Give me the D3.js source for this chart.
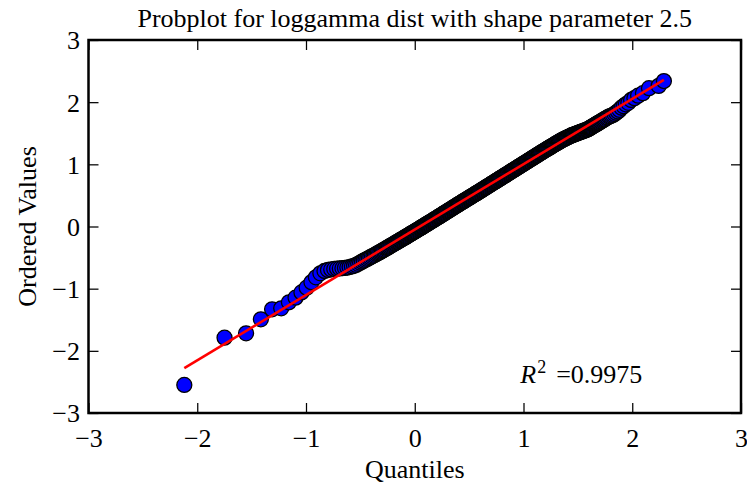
<!DOCTYPE html>
<html>
<head>
<meta charset="utf-8">
<script src="https://cdn.jsdelivr.net/npm/d3@7"></script>
<style>
  html, body { margin: 0; padding: 0; background: #ffffff; }
  svg { display: block; }
  text { font-family: "Liberation Serif", "Times New Roman", serif; fill: #000; }
</style>
</head>
<body>
<svg id="chart" width="747" height="487"></svg>
<script>
// Theoretical quantiles (loggamma, c = 2.5) and the ordered sample values
const quantiles = [
  -2.119,-1.749,-1.551,-1.415,-1.312,-1.228,-1.157,-1.096,-1.042,-0.994,
  -0.950,-0.909,-0.868,-0.830,-0.798,-0.768,-0.740,-0.714,-0.689,-0.665,
  -0.642,-0.620,-0.599,-0.578,-0.558,
  -0.539,-0.520,-0.502,-0.485,-0.469,-0.453,-0.437,-0.422,-0.408,-0.393,
  -0.379,-0.366,-0.353,-0.340,-0.327,-0.315,-0.303,-0.291,-0.280,-0.268,
  -0.257,-0.246,-0.236,-0.225,-0.215,-0.205,-0.195,-0.185,-0.176,-0.166,
  -0.157,-0.148,-0.139,-0.130,-0.121,-0.112,-0.104,-0.095,-0.087,-0.079,
  -0.071,-0.063,-0.055,-0.047,-0.039,-0.031,-0.024,-0.016,-0.009,-0.002,
  0.005,0.013,0.021,0.029,0.037,0.045,0.053,0.061,0.069,0.077,
  0.085,0.093,0.101,0.109,0.117,0.125,0.133,0.141,0.149,0.157,
  0.165,0.173,0.181,0.189,0.197,0.205,0.213,0.221,0.229,0.237,
  0.245,0.253,0.261,0.269,0.277,0.285,0.293,0.301,0.309,0.317,
  0.325,0.333,0.341,0.349,0.357,0.365,0.373,0.381,0.389,0.397,
  0.405,0.413,0.421,0.429,0.437,0.445,0.453,0.461,0.469,0.477,
  0.485,0.493,0.501,0.509,0.517,0.525,0.533,0.541,0.549,0.557,
  0.565,0.573,0.581,0.589,0.597,0.605,0.613,0.621,0.629,0.637,
  0.645,0.653,0.661,0.669,0.677,0.685,0.693,0.701,0.709,0.717,
  0.725,0.733,0.741,0.749,0.757,0.765,0.773,0.781,0.789,0.797,
  0.805,0.813,0.821,0.829,0.837,0.845,0.853,0.861,0.869,0.877,
  0.885,0.893,0.901,0.909,0.917,0.925,0.933,0.941,0.949,0.957,
  0.965,0.973,0.981,0.989,0.997,1.005,1.013,1.021,1.029,1.037,
  1.045,1.053,1.061,1.069,1.077,1.085,1.093,1.101,1.109,1.117,
  1.125,1.133,1.141,1.149,1.157,1.165,1.173,1.181,1.189,1.197,
  1.205,1.213,1.221,1.229,1.237,1.245,1.253,1.261,1.269,1.277,
  1.285,1.293,1.301,1.309,1.317,1.325,1.333,1.341,1.349,1.357,
  1.365,1.373,1.381,1.389,1.397,1.405,1.413,1.421,1.429,1.437,
  1.445,1.453,1.461,1.469,1.477,1.485,1.493,1.501,1.509,1.517,
  1.525,1.533,1.541,1.549,1.557,1.565,1.573,1.581,1.589,1.597,
  1.602,1.608,1.614,1.620,1.626,1.633,1.640,1.647,1.654,1.661,
  1.669,1.677,1.685,1.693,1.702,1.711,1.721,1.731,1.741,1.751,
  1.762,1.773,1.785,1.797,1.810,1.823,1.837,1.851,1.867,1.883,
  1.901,1.920,1.941,1.964,1.989,2.020,2.054,2.098,2.154,2.243,2.291
];

const orderedValues = [
  -2.549,-1.788,-1.718,-1.493,-1.332,-1.316,-1.219,-1.145,-1.060,-0.984,
  -0.897,-0.817,-0.753,-0.716,-0.700,-0.690,-0.683,-0.678,-0.674,-0.670,
  -0.666,-0.660,-0.652,-0.643,-0.632,
  -0.618,-0.600,-0.583,-0.567,-0.551,-0.536,-0.522,-0.508,-0.495,-0.480,
  -0.467,-0.455,-0.442,-0.430,-0.417,-0.405,-0.394,-0.381,-0.371,-0.358,
  -0.346,-0.336,-0.325,-0.314,-0.303,-0.294,-0.283,-0.273,-0.263,-0.253,
  -0.244,-0.235,-0.225,-0.216,-0.206,-0.198,-0.189,-0.180,-0.172,-0.163,
  -0.155,-0.146,-0.138,-0.129,-0.121,-0.113,-0.105,-0.097,-0.089,-0.082,
  -0.075,-0.066,-0.058,-0.049,-0.041,-0.032,-0.023,-0.015,-0.006,0.002,
  0.011,0.020,0.028,0.037,0.045,0.054,0.063,0.071,0.080,0.088,
  0.097,0.106,0.114,0.123,0.131,0.140,0.149,0.158,0.167,0.175,
  0.184,0.193,0.202,0.211,0.219,0.228,0.237,0.246,0.255,0.263,
  0.272,0.281,0.290,0.299,0.307,0.316,0.325,0.334,0.343,0.351,
  0.360,0.369,0.377,0.386,0.394,0.403,0.412,0.420,0.429,0.437,
  0.446,0.455,0.463,0.472,0.480,0.489,0.498,0.506,0.515,0.523,
  0.532,0.541,0.549,0.558,0.566,0.575,0.584,0.593,0.602,0.610,
  0.619,0.628,0.637,0.646,0.654,0.663,0.672,0.681,0.690,0.698,
  0.707,0.716,0.725,0.734,0.742,0.751,0.760,0.769,0.778,0.786,
  0.795,0.804,0.813,0.822,0.830,0.839,0.848,0.857,0.866,0.874,
  0.883,0.892,0.901,0.910,0.918,0.927,0.936,0.945,0.954,0.962,
  0.971,0.980,0.989,0.998,1.006,1.015,1.024,1.033,1.042,1.050,
  1.059,1.068,1.077,1.086,1.094,1.103,1.112,1.121,1.130,1.138,
  1.147,1.156,1.165,1.174,1.182,1.191,1.200,1.209,1.218,1.226,
  1.235,1.243,1.252,1.260,1.268,1.277,1.285,1.294,1.302,1.310,
  1.319,1.327,1.335,1.344,1.352,1.361,1.369,1.377,1.386,1.393,
  1.400,1.406,1.413,1.420,1.427,1.434,1.440,1.447,1.454,1.461,
  1.468,1.473,1.478,1.483,1.488,1.494,1.499,1.504,1.509,1.515,
  1.520,1.525,1.530,1.535,1.541,1.546,1.551,1.556,1.562,1.567,
  1.575,1.582,1.588,1.594,1.600,1.608,1.615,1.623,1.630,1.637,
  1.646,1.654,1.663,1.671,1.680,1.690,1.700,1.711,1.722,1.732,
  1.744,1.755,1.768,1.775,1.785,1.795,1.810,1.830,1.850,1.875,
  1.910,1.935,1.965,1.990,2.035,2.065,2.105,2.145,2.225,2.262,2.340
];

// Least-squares line through the probability plot
const fitSlope = 1.052;
const fitIntercept = -0.05;
const rSquared = 0.9975;

const xTicks = [-3, -2, -1, 0, 1, 2, 3];
const yTicks = [-3, -2, -1, 0, 1, 2, 3];
const xDomain = [-3, 3];
const yDomain = [-3, 3];

const titleText = "Probplot for loggamma dist with shape parameter 2.5";
const xLabel = "Quantiles";
const yLabel = "Ordered Values";

// ---- layout ----
const plot = { left: 88.5, right: 741, top: 40, bottom: 413 };
const fontSize = 26;
const tickLen = 10;

const svg = d3.select("#chart");
const x = d3.scaleLinear().domain(xDomain).range([plot.left, plot.right]);
const y = d3.scaleLinear().domain(yDomain).range([plot.bottom, plot.top]);
const fmt = d => (d < 0 ? "\u2212" + Math.abs(d) : String(d));

// points
const n = Math.min(quantiles.length, orderedValues.length);
const pts = d3.range(n).map(i => [quantiles[i], orderedValues[i]]);

svg.append("g")
  .selectAll("circle")
  .data(pts)
  .join("circle")
  .attr("cx", d => x(d[0]))
  .attr("cy", d => y(d[1]))
  .attr("r", 7.5)
  .attr("fill", "#0000ff")
  .attr("stroke", "#000")
  .attr("stroke-width", 1.3);

// fitted line across the range of the quantiles
const xr = d3.extent(quantiles);
svg.append("path")
  .datum(xr.map(v => [v, fitSlope * v + fitIntercept]))
  .attr("d", d3.line().x(d => x(d[0])).y(d => y(d[1])))
  .attr("fill", "none")
  .attr("stroke", "#ff0000")
  .attr("stroke-width", 2.6);

// axes with inward ticks on all four sides
function styleAxis(g) {
  g.select(".domain").remove();
  g.selectAll(".tick line").attr("stroke", "#000").attr("stroke-width", 1.25);
}

const gBottom = svg.append("g")
  .attr("transform", `translate(0,${plot.bottom})`)
  .call(d3.axisBottom(x).tickValues(xTicks).tickFormat(fmt).tickSizeInner(-tickLen).tickSizeOuter(0))
  .call(styleAxis);
gBottom.selectAll(".tick text")
  .attr("y", 34).attr("dy", null)
  .style("font-size", fontSize + "px")
  .style("font-family", '"Liberation Serif", serif');

svg.append("g")
  .attr("transform", `translate(0,${plot.top})`)
  .call(d3.axisTop(x).tickValues(xTicks).tickFormat("").tickSizeInner(-tickLen).tickSizeOuter(0))
  .call(styleAxis);

const gLeft = svg.append("g")
  .attr("transform", `translate(${plot.left},0)`)
  .call(d3.axisLeft(y).tickValues(yTicks).tickFormat(fmt).tickSizeInner(-tickLen).tickSizeOuter(0))
  .call(styleAxis);
gLeft.selectAll(".tick text")
  .attr("x", -8.5).attr("dy", "0.34em")
  .style("font-size", fontSize + "px")
  .style("font-family", '"Liberation Serif", serif');

svg.append("g")
  .attr("transform", `translate(${plot.right},0)`)
  .call(d3.axisRight(y).tickValues(yTicks).tickFormat("").tickSizeInner(-tickLen).tickSizeOuter(0))
  .call(styleAxis);

// frame
svg.append("rect")
  .attr("x", plot.left).attr("y", plot.top)
  .attr("width", plot.right - plot.left).attr("height", plot.bottom - plot.top)
  .attr("fill", "none").attr("stroke", "#000").attr("stroke-width", 2.5);

// title and axis labels
const cx = (plot.left + plot.right) / 2;
svg.append("text")
  .attr("x", cx).attr("y", 27)
  .attr("text-anchor", "middle")
  .style("font-size", fontSize + "px")
  .text(titleText);

svg.append("text")
  .attr("x", cx).attr("y", 478)
  .attr("text-anchor", "middle")
  .style("font-size", fontSize + "px")
  .text(xLabel);

svg.append("text")
  .attr("transform", `translate(36,${(plot.top + plot.bottom) / 2}) rotate(-90)`)
  .attr("text-anchor", "middle")
  .style("font-size", fontSize + "px")
  .text(yLabel);

// coefficient of determination
const rx = x(0.97), ry = y(-2.52);
const rText = svg.append("text")
  .attr("x", rx).attr("y", ry)
  .style("font-size", fontSize + "px");
rText.append("tspan").style("font-style", "italic").text("R");
rText.append("tspan").attr("dx", 1).attr("dy", -10).style("font-size", "18px").text("2");
rText.append("tspan").attr("dx", 10).attr("dy", 10).text("=" + rSquared.toFixed(4));
</script>
</body>
</html>
